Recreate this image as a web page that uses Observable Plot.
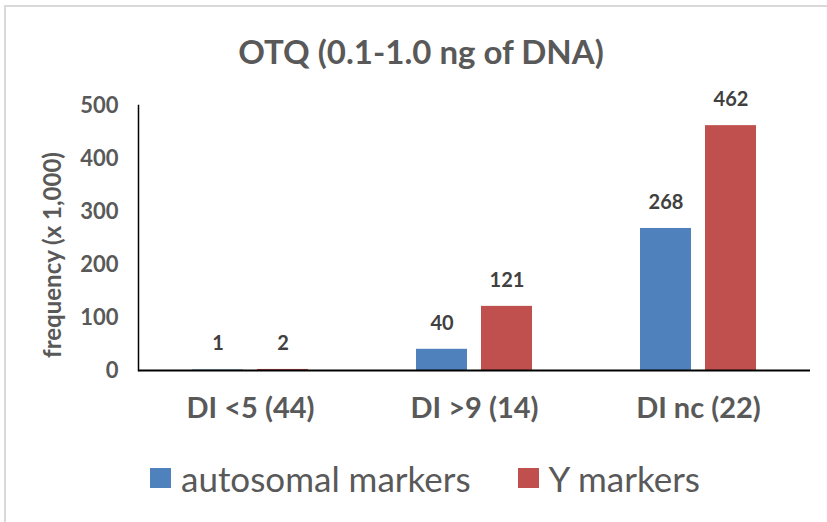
<!DOCTYPE html>
<html>
<head>
<meta charset="utf-8">
<script src="https://cdn.jsdelivr.net/npm/d3@7"></script>
<script src="https://cdn.jsdelivr.net/npm/@observablehq/plot@0.6"></script>
<style>
  html, body { margin: 0; padding: 0; background: #fff; }
  #wrap { position: relative; width: 827px; height: 522px; overflow: hidden; font-family: Lato, "Open Sans", sans-serif; color: #595959; }
  #frame { position: absolute; left: 4px; top: 5px; right: -10px; bottom: -10px; border-left: 2px solid #d9d9d9; border-top: 2px solid #d9d9d9; }
  #title { position: absolute; top: 31px; left: 0; width: 842px; text-align: center; font-weight: bold; font-size: 33px; line-height: 40px; }
  #chart { position: absolute; top: 80px; left: 0; }
  #legend { position: absolute; top: 456px; left: 150px; display: flex; align-items: center; font-size: 35px; line-height: 44px; }
  .sw { display: inline-block; width: 21px; height: 20px; margin-right: 10px; }
  .item { display: flex; align-items: center; margin-right: 47px; }
</style>
</head>
<body>
<div id="wrap">
  <div id="frame"></div>
  <div id="title">OTQ (0.1-1.0 ng of DNA)</div>
  <div id="chart"></div>
  <div id="legend"></div>
</div>
<script>
const categories = ["DI <5 (44)", "DI >9 (14)", "DI nc (22)"];
const seriesNames = ["autosomal markers", "Y markers"];
const autosomal = [1, 40, 268];
const yMarkers = [2, 121, 462];
const colors = ["#4f81bd", "#c0504d"];
const yTicks = [0, 100, 200, 300, 400, 500];
const yLabel = "frequency (x 1,000)";

const data = [];
categories.forEach((c, i) => {
  data.push({cat: c, series: seriesNames[0], value: autosomal[i]});
  data.push({cat: c, series: seriesNames[1], value: yMarkers[i]});
});

const chart = Plot.plot({
  width: 827,
  height: 360,
  marginLeft: 138,
  marginRight: 17,
  marginTop: 25,
  marginBottom: 70,
  style: {fontFamily: "Lato, 'Open Sans', sans-serif", background: "transparent"},
  fx: {domain: categories, padding: 0},
  x: {domain: seriesNames, paddingInner: 0.215, paddingOuter: 0.83, axis: null},
  y: {domain: [0, 500]},
  color: {domain: seriesNames, range: colors},
  marks: [
    Plot.barY(data, {fx: "cat", x: "series", y: "value", fill: "series"}),
    Plot.text(data, {fx: "cat", x: "series", y: "value", text: d => String(d.value), dy: -26, fontSize: 20, fontWeight: "bold", fill: "#404040"}),
    Plot.ruleY([0], {stroke: "#000", strokeWidth: 2}),
    Plot.frame({anchor: "left", facetAnchor: "left", stroke: "#000", strokeWidth: 1.5}),
    Plot.axisY({ticks: yTicks, tickSize: 0, tickPadding: 20, fontSize: 22, fontWeight: "bold", fill: "#595959", label: null}),
    Plot.text([yLabel], {frameAnchor: "left", facetAnchor: "left", textAnchor: "middle", rotate: -90, dx: -85, dy: 17, fontSize: 24, fontWeight: "bold", fill: "#595959"}),
    Plot.axisFx({anchor: "bottom", tickSize: 0, tickPadding: 27, fontSize: 29, fontWeight: "bold", fill: "#595959", label: null})
  ]
});
document.getElementById("chart").appendChild(chart);

const legend = document.getElementById("legend");
seriesNames.forEach((s, i) => {
  const item = document.createElement("div");
  item.className = "item";
  const sw = document.createElement("span");
  sw.className = "sw";
  sw.style.background = colors[i];
  const t = document.createElement("span");
  t.textContent = s;
  item.appendChild(sw);
  item.appendChild(t);
  legend.appendChild(item);
});
</script>
</body>
</html>
